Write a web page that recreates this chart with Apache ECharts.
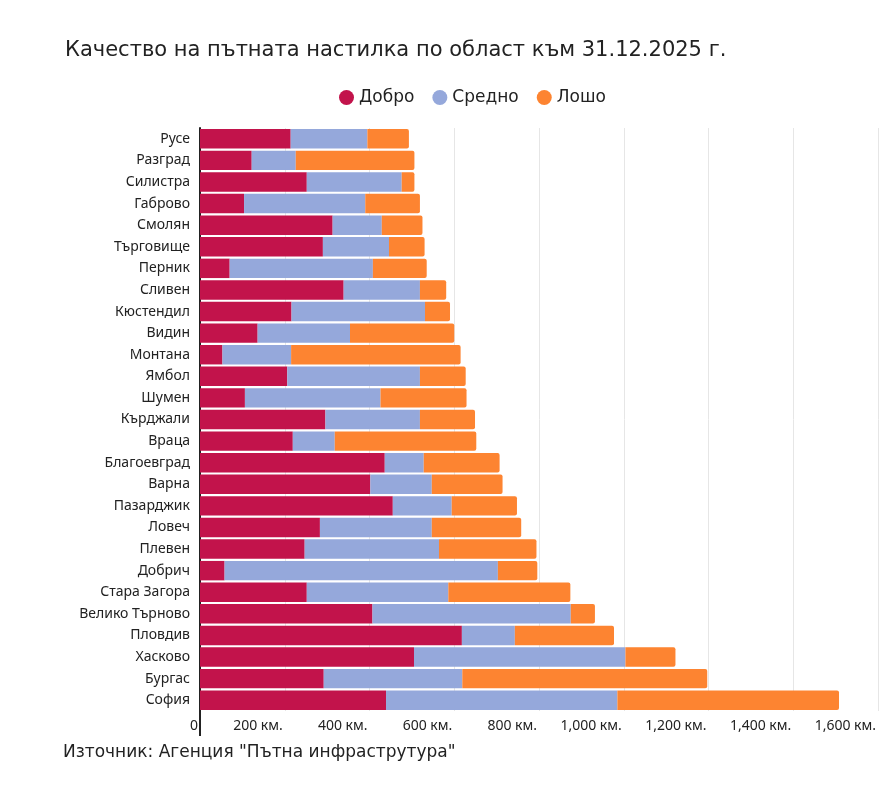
<!DOCTYPE html>
<html>
<head>
<meta charset="utf-8">
<script src="https://cdn.jsdelivr.net/npm/echarts@6/dist/echarts.min.js"></script>
<style>
  html, body { margin: 0; padding: 0; background: #fff; }
  #chart { width: 893px; height: 787px; }
</style>
</head>
<body>
<div id="chart"></div>
<script>
var regions = ['Русе', 'Разград', 'Силистра', 'Габрово', 'Смолян', 'Търговище', 'Перник',
  'Сливен', 'Кюстендил', 'Видин', 'Монтана', 'Ямбол', 'Шумен', 'Кърджали', 'Враца',
  'Благоевград', 'Варна', 'Пазарджик', 'Ловеч', 'Плевен', 'Добрич', 'Стара Загора',
  'Велико Търново', 'Пловдив', 'Хасково', 'Бургас', 'София'];
var good = [214, 122, 252, 104, 313, 290, 70, 339, 216, 136, 53, 206, 106, 296, 219,
  436, 402, 455, 283, 247, 58, 252, 407, 618, 505, 292, 439];
var medium = [181, 104, 224, 286, 116, 156, 338, 180, 315, 218, 162, 313, 320, 223, 99,
  92, 145, 139, 264, 317, 645, 334, 468, 125, 499, 327, 546];
var bad = [98, 280, 30, 129, 96, 84, 127, 62, 59, 246, 400, 108, 203, 130, 334,
  179, 167, 154, 211, 230, 93, 288, 57, 234, 118, 578, 523];
var xTicks = [0, 200, 400, 600, 800, 1000, 1200, 1400, 1600];

var font = 'Noto Sans';
var wide = 'DejaVu Sans';
var chart = echarts.init(document.getElementById('chart'));

function series(name, data, color, last) {
  return {
    name: name,
    type: 'bar',
    stack: 'total',
    barCategoryGap: '10%',
    data: data,
    itemStyle: {
      color: color,
      borderRadius: last ? [0, 2, 2, 0] : 0
    },
    emphasis: { disabled: true }
  };
}

chart.setOption({
  animation: false,
  textStyle: { fontFamily: font },
  title: {
    text: 'Качество на пътната настилка по област към 31.12.2025 г.',
    left: 60,
    top: 35,
    textStyle: { fontFamily: wide, fontSize: 21, fontWeight: 'normal', color: '#222' }
  },
  legend: {
    data: ['Добро', 'Средно', 'Лошо'],
    left: 334,
    top: 84,
    icon: 'circle',
    itemWidth: 15,
    itemHeight: 15,
    itemGap: 18,
    textStyle: { fontFamily: wide, fontSize: 17, color: '#222' }
  },
  grid: { left: 200, right: 15, top: 128, bottom: 76, containLabel: false },
  xAxis: {
    type: 'value',
    min: xTicks[0],
    max: xTicks[xTicks.length - 1],
    interval: 200,
    axisLine: { show: false },
    axisTick: { show: false },
    splitLine: { show: true, lineStyle: { color: '#e6e6e6', width: 1 } },
    axisLabel: {
      align: 'right',
      margin: 8,
      padding: [0, 2, 0, 0],
      fontFamily: font,
      fontSize: 14,
      color: '#222',
      formatter: function (v) {
        return v === 0 ? '0' : v.toLocaleString('en-US') + ' км.';
      }
    }
  },
  yAxis: {
    type: 'category',
    data: regions,
    inverse: true,
    axisLine: { show: true, lineStyle: { color: '#222', width: 2 } },
    axisTick: { show: false },
    axisLabel: { margin: 10, fontFamily: font, fontSize: 14, color: '#222' }
  },
  graphic: [
    {
      type: 'line',
      shape: { x1: 200, y1: 710, x2: 200, y2: 736 },
      style: { stroke: '#222', lineWidth: 2 }
    },
    {
      type: 'text',
      left: 63,
      top: 744,
      style: {
        text: 'Източник: Агенция "Пътна инфраструтура"',
        fontFamily: wide,
        fontSize: 17,
        fill: '#222'
      }
    }
  ],
  series: [
    series('Добро', good, '#c2134b', false),
    series('Средно', medium, '#95a8db', false),
    series('Лошо', bad, '#fd8431', true)
  ]
});
</script>
</body>
</html>
